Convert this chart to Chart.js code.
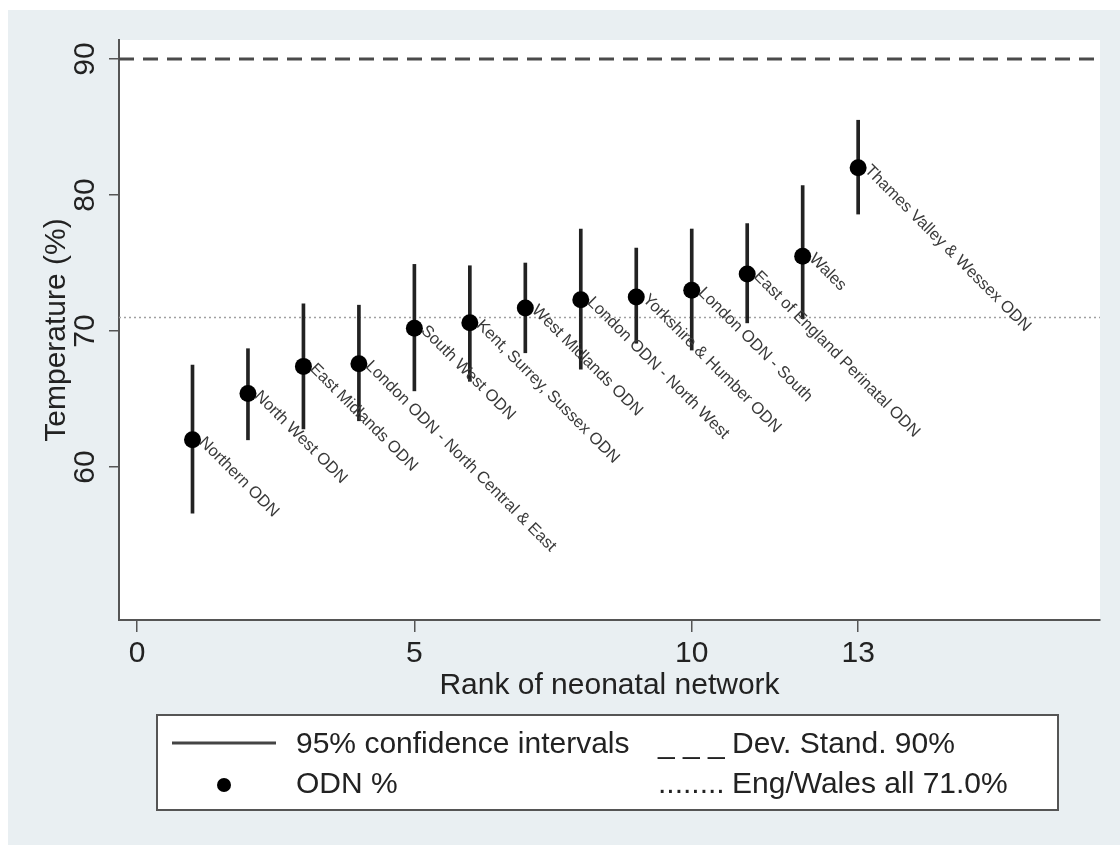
<!DOCTYPE html>
<html>
<head>
<meta charset="utf-8">
<title>Rank of neonatal network</title>
<script src="https://cdn.jsdelivr.net/npm/chart.js@4.4.1/dist/chart.umd.min.js"></script>
<style>
  html, body { margin: 0; padding: 0; background: #fff; }
  canvas { display: block; }
</style>
</head>
<body>
<canvas id="chart" width="1120" height="845"></canvas>
<script>
// values
const ranks = [1, 2, 3, 4, 5, 6, 7, 8, 9, 10, 11, 12, 13];
const networks = [
  'Northern ODN',
  'North West ODN',
  'East Midlands ODN',
  'London ODN - North Central & East',
  'South West ODN',
  'Kent, Surrey, Sussex ODN',
  'West Midlands ODN',
  'London ODN - North West',
  'Yorkshire & Humber ODN',
  'London ODN - South',
  'East of England Perinatal ODN',
  'Wales',
  'Thames Valley & Wessex ODN'
];
const odnPct = [62.0, 65.4, 67.4, 67.6, 70.2, 70.6, 71.7, 72.3, 72.5, 73.0, 74.2, 75.5, 82.0];
const ciLow  = [56.6, 62.0, 62.8, 63.4, 65.6, 66.3, 68.4, 67.2, 69.1, 68.6, 70.6, 70.9, 78.6];
const ciHigh = [67.5, 68.7, 72.0, 71.9, 74.9, 74.8, 75.0, 77.5, 76.1, 77.5, 77.9, 80.7, 85.5];
const devStandard = 90;
const engWalesAll = 71.0;
const xTicks = [0, 5, 10, 13];
const yTicks = [60, 70, 80, 90];
const legendLabels = ['95% confidence intervals', 'ODN %', 'Dev. Stand. 90%', 'Eng/Wales all 71.0%'];

const xMin = -0.325, xMax = 17.36;
const yMin = 48.75, yMax = 91.4;
const FONT = "'Liberation Sans', Arial, Helvetica, sans-serif";
const TEXT = '#222';
Chart.defaults.font.family = FONT;

// backgrounds, rotated marker labels, y tick labels and the stata style legend
const decor = {
  id: 'decor',
  beforeDraw(chart) {
    const { ctx, chartArea: a } = chart;
    ctx.save();
    ctx.fillStyle = '#fff';
    ctx.fillRect(0, 0, chart.width, chart.height);
    ctx.fillStyle = '#e9eff2';
    ctx.fillRect(8, 10, chart.width - 8, chart.height - 10);
    ctx.fillStyle = '#fff';
    ctx.fillRect(a.left, a.top, a.right - a.left, a.bottom - a.top);
    ctx.restore();
  },
  afterDatasetsDraw(chart) {
    const { ctx } = chart;
    const xs = chart.scales.x, ys = chart.scales.y;
    ctx.save();
    ctx.fillStyle = '#3a3a3a';
    ctx.font = '16.5px ' + FONT;
    ctx.textAlign = 'left';
    ctx.textBaseline = 'middle';
    networks.forEach((name, i) => {
      const px = xs.getPixelForValue(ranks[i]);
      const py = ys.getPixelForValue(odnPct[i]);
      ctx.save();
      ctx.translate(px + 9, py);
      ctx.rotate(Math.PI / 4);
      ctx.fillText(name, 0, 0);
      ctx.restore();
    });
    // y tick labels, vertical like stata
    ctx.fillStyle = TEXT;
    ctx.font = '30px ' + FONT;
    ctx.textAlign = 'center';
    yTicks.forEach(v => {
      ctx.save();
      ctx.translate(86, ys.getPixelForValue(v));
      ctx.rotate(-Math.PI / 2);
      ctx.fillText(String(v), 0, 0);
      ctx.restore();
    });
    ctx.restore();
  },
  afterDraw(chart) {
    const { ctx } = chart;
    ctx.save();
    // legend box
    ctx.fillStyle = '#fff';
    ctx.fillRect(157, 715, 901, 95);
    ctx.strokeStyle = '#555';
    ctx.lineWidth = 2;
    ctx.strokeRect(157, 715, 901, 95);
    const row1 = 745, row2 = 785;
    // ci line
    ctx.strokeStyle = '#444';
    ctx.lineWidth = 3;
    ctx.beginPath();
    ctx.moveTo(172, row1 - 2);
    ctx.lineTo(276, row1 - 2);
    ctx.stroke();
    // marker
    ctx.fillStyle = '#000';
    ctx.beginPath();
    ctx.arc(224, row2, 7, 0, Math.PI * 2);
    ctx.fill();
    ctx.fillStyle = TEXT;
    ctx.font = '30px ' + FONT;
    ctx.textAlign = 'left';
    ctx.textBaseline = 'middle';
    ctx.fillText(legendLabels[0], 296, row1);
    ctx.fillText(legendLabels[1], 296, row2);
    ctx.fillText('_ _ _', 658, row1);
    ctx.fillText(legendLabels[2], 732, row1);
    ctx.fillText('........', 658, row2);
    ctx.fillText(legendLabels[3], 732, row2);
    ctx.restore();
  }
};

const ctx = document.getElementById('chart').getContext('2d');
const chart = new Chart(ctx, {
  type: 'scatter',
  data: {
    datasets: [
      {
        label: legendLabels[1],
        data: ranks.map((r, i) => ({ x: r, y: odnPct[i] })),
        pointRadius: 8.5,
        pointHoverRadius: 8.5,
        backgroundColor: '#000',
        borderColor: '#000',
        borderWidth: 0
      },
      {
        type: 'bar',
        label: legendLabels[0],
        data: ranks.map((r, i) => ({ x: r, y: [ciLow[i], ciHigh[i]] })),
        backgroundColor: '#222',
        borderWidth: 0,
        barThickness: 3
      },
      {
        type: 'line',
        label: legendLabels[2],
        data: [{ x: xMin, y: devStandard }, { x: xMax, y: devStandard }],
        borderColor: '#4a4a4a',
        borderWidth: 3,
        borderDash: [15, 9],
        pointRadius: 0,
        fill: false
      },
      {
        type: 'line',
        label: legendLabels[3],
        data: [{ x: xMin, y: engWalesAll }, { x: xMax, y: engWalesAll }],
        borderColor: '#a0a0a0',
        borderWidth: 1.5,
        borderDash: [2, 3],
        pointRadius: 0,
        fill: false
      }
    ]
  },
  options: {
    responsive: false,
    animation: false,
    devicePixelRatio: 1,
    layout: { padding: { left: 0, top: 40, right: 20, bottom: 140 } },
    plugins: { legend: { display: false }, tooltip: { enabled: false } },
    scales: {
      x: {
        type: 'linear',
        min: xMin,
        max: xMax,
        offset: false,
        afterBuildTicks: s => { s.ticks = xTicks.map(v => ({ value: v })); },
        afterFit: s => { s.height = 85; },
        grid: { display: true, offset: false, drawOnChartArea: false, drawTicks: true, tickLength: 12, color: '#555', lineWidth: 1.5 },
        border: { display: true, color: '#555', width: 2 },
        ticks: { font: { size: 30 }, color: TEXT, padding: 4, maxRotation: 0, autoSkip: false },
        title: { display: true, text: 'Rank of neonatal network', font: { size: 30 }, color: TEXT, padding: { top: 0, bottom: 1 } }
      },
      y: {
        type: 'linear',
        min: yMin,
        max: yMax,
        afterBuildTicks: s => { s.ticks = yTicks.map(v => ({ value: v })); },
        afterFit: s => { s.width = 119; },
        grid: { display: true, offset: false, drawOnChartArea: false, drawTicks: true, tickLength: 10, color: '#555', lineWidth: 1.5 },
        border: { display: true, color: '#555', width: 2 },
        ticks: { display: false },
        title: { display: true, text: 'Temperature (%)', font: { size: 30 }, color: TEXT, padding: { top: 39, bottom: 0 } }
      }
    }
  },
  plugins: [decor]
});
</script>
</body>
</html>
